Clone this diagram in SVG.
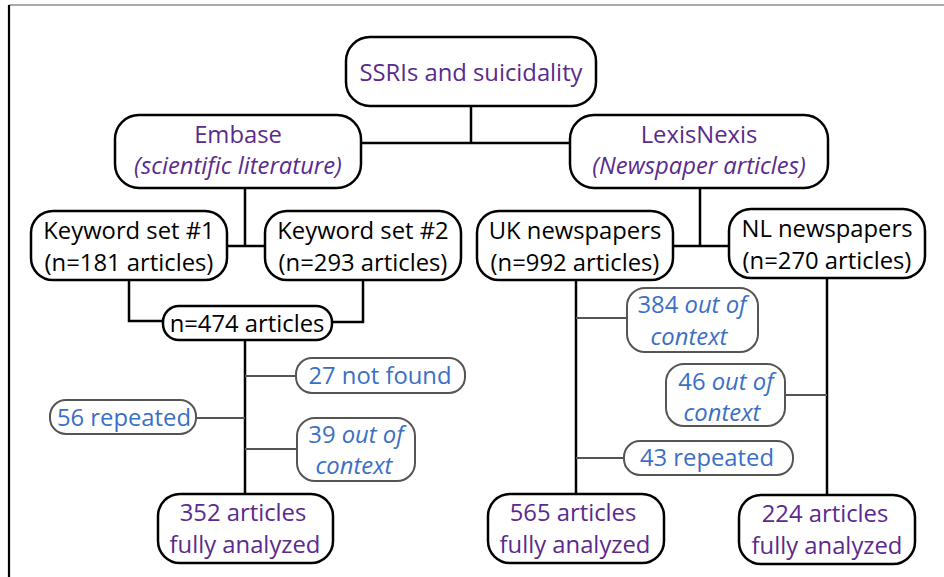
<svg xmlns="http://www.w3.org/2000/svg" width="944" height="577" viewBox="0 0 944 577">
<style>
.b{fill:#fff;stroke:#000;stroke-width:2.5}
.g{fill:#fff;stroke:#555;stroke-width:2}
.c{fill:none;stroke:#000;stroke-width:2.5}
.cg{fill:none;stroke:#555;stroke-width:2}
text{font-family:"Open Sans","Liberation Sans",sans-serif;font-size:23.8px;text-anchor:middle}
.p{fill:#5a2a8e}
.k{fill:#000}
.u{fill:#3b6fc6}
.i{font-style:italic}
</style>
<rect width="944" height="577" fill="#fff"/>
<line x1="9" y1="5" x2="944" y2="5" stroke="#555" stroke-width="1.2"/>
<line x1="9" y1="5" x2="9" y2="577" stroke="#000" stroke-width="2.2"/>
<g id="connectors">
<path class="c" d="M471 106V143M361 143H570"/>
<path class="c" d="M245 188V246M227 246H265"/>
<path class="c" d="M700 188V246M673 246H729"/>
<path class="c" d="M129 280V321H163M363 280V322H332"/>
<path class="c" d="M245 340V494"/>
<path class="cg" d="M245 376H296M196 418H245M245 449H297"/>
<path class="c" d="M576 280V494"/>
<path class="cg" d="M576 318H627M576 458H624"/>
<path class="c" d="M827 278V495"/>
<path class="cg" d="M785 395H827"/>
</g>
<g id="ssri"><rect class="b" x="346" y="37" width="250" height="69" rx="24"/><text class="p" x="471" y="81">SSRIs and suicidality</text></g>
<g id="embase"><rect class="b" x="115" y="115" width="246" height="73" rx="24"/><text class="p" x="238" y="143">Embase</text><text class="p i" x="238" y="174">(scientific literature)</text></g>
<g id="lexis"><rect class="b" x="570" y="115" width="258" height="73" rx="24"/><text class="p" x="699" y="143">LexisNexis</text><text class="p i" x="699" y="174">(Newspaper articles)</text></g>
<g id="ks1"><rect class="b" x="31" y="211" width="196" height="69" rx="22"/><text class="k" x="129" y="239">Keyword set #1</text><text class="k" x="129" y="271">(n=181 articles)</text></g>
<g id="ks2"><rect class="b" x="265" y="211" width="196" height="69" rx="22"/><text class="k" x="363" y="239">Keyword set #2</text><text class="k" x="363" y="271">(n=293 articles)</text></g>
<g id="uk"><rect class="b" x="477" y="211" width="196" height="69" rx="22"/><text class="k" x="575" y="239">UK newspapers</text><text class="k" x="575" y="271">(n=992 articles)</text></g>
<g id="nl"><rect class="b" x="729" y="209" width="196" height="69" rx="22"/><text class="k" x="827" y="237">NL newspapers</text><text class="k" x="827" y="269">(n=270 articles)</text></g>
<g id="n474"><rect class="b" x="163" y="306" width="169" height="34" rx="16"/><text class="k" x="247" y="332">n=474 articles</text></g>
<g id="nf27"><rect class="g" x="296" y="358" width="169" height="35" rx="16"/><text class="u" x="380" y="384">27 not found</text></g>
<g id="rep56"><rect class="g" x="50" y="400" width="146" height="34" rx="16"/><text class="u" x="124" y="426">56 repeated</text></g>
<g id="ooc39"><rect class="g" x="297" y="418" width="118" height="63" rx="18"/><text class="u" x="356" y="443">39 <tspan class="i">out of</tspan></text><text class="u i" x="354" y="474">context</text></g>
<g id="a352"><rect class="b" x="158" y="494" width="175" height="69" rx="22"/><text class="p" x="243" y="521">352 articles</text><text class="p" x="245" y="553">fully analyzed</text></g>
<g id="ooc384"><rect class="g" x="627" y="288" width="131" height="64" rx="18"/><text class="u" x="692" y="313">384 <tspan class="i">out of</tspan></text><text class="u i" x="689" y="345">context</text></g>
<g id="ooc46"><rect class="g" x="666" y="364" width="119" height="62" rx="18"/><text class="u" x="726" y="390">46 <tspan class="i">out of</tspan></text><text class="u i" x="722" y="421">context</text></g>
<g id="rep43"><rect class="g" x="624" y="441" width="169" height="34" rx="16"/><text class="u" x="707" y="466">43 repeated</text></g>
<g id="a565"><rect class="b" x="488" y="494" width="176" height="69" rx="22"/><text class="p" x="573" y="521">565 articles</text><text class="p" x="575" y="553">fully analyzed</text></g>
<g id="a224"><rect class="b" x="739" y="495" width="176" height="69" rx="22"/><text class="p" x="825" y="522">224 articles</text><text class="p" x="827" y="554">fully analyzed</text></g>
</svg>
